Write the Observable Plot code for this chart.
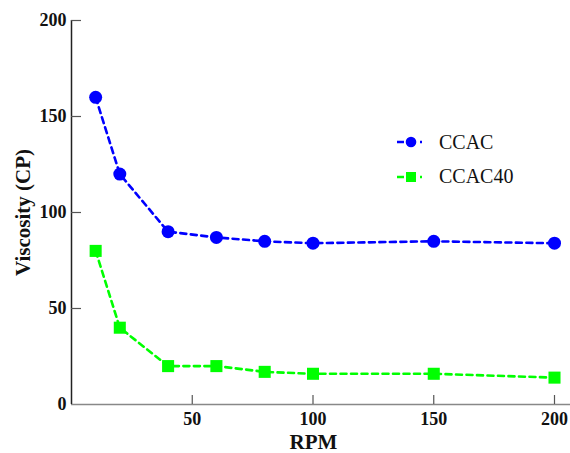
<!DOCTYPE html>
<html><head><meta charset="utf-8">
<script src="https://cdn.jsdelivr.net/npm/d3@7"></script>
<script src="https://cdn.jsdelivr.net/npm/@observablehq/plot@0.6"></script>
<style>
body{margin:0;background:#fff}
#chart{position:relative;width:570px;height:453px;font-family:"Liberation Serif","Times New Roman",serif}
#chart svg{font-family:"Liberation Serif","Times New Roman",serif !important}
#chart svg text{font-family:"Liberation Serif","Times New Roman",serif !important;font-weight:bold;font-size:18px;fill:#111}
#chart svg text.axlabel{font-size:21px}
#legend{position:absolute;left:396px;top:125px;font-size:20px;color:#111}
#legend .row{display:flex;align-items:center;height:34.5px}
#legend svg{margin-right:13px}
</style>
</head><body><div id="chart"><div id="legend"></div></div>
<script>
const rpm = [10, 20, 40, 60, 80, 100, 150, 200];
const ccac = [160, 120, 90, 87, 85, 84, 85, 84];
const ccac40 = [80, 40, 20, 20, 17, 16, 16, 14];
const xTicks = [50, 100, 150, 200];
const yTicks = [0, 50, 100, 150, 200];
const seriesNames = ["CCAC", "CCAC40"];
const seriesColors = ["#0000ff", "#00ff00"];
const seriesSymbols = ["circle", "square"];
const xLabel = "RPM";
const yLabel = "Viscosity (CP)";

const data = [];
rpm.forEach((x, i) => data.push({series: seriesNames[0], x, y: ccac[i]}));
rpm.forEach((x, i) => data.push({series: seriesNames[1], x, y: ccac40[i]}));

const W = 570, H = 453, mL = 71, mR = 16, mT = 20, mB = 49;
const frameH = H - mT - mB, frameW = W - mL - mR;

const chart = Plot.plot({
  width: W, height: H,
  marginLeft: mL, marginRight: mR, marginTop: mT, marginBottom: mB,
  style: {background: "#fff", overflow: "visible"},
  x: {domain: [0, 200]},
  y: {domain: [0, 200]},
  color: {domain: seriesNames, range: seriesColors},
  symbol: {domain: seriesNames, range: seriesSymbols},
  marks: [
    Plot.ruleY([0], {stroke: "#888", strokeWidth: 1.5, insetRight: -mR}),
    Plot.ruleX([0], {stroke: "#222", strokeWidth: 1.5}),
    Plot.tickY(yTicks.filter(d => d > 0), {y: d => d, stroke: "#555", strokeWidth: 1.2, insetRight: frameW - 10}),
    Plot.tickX(xTicks, {x: d => d, stroke: "#555", strokeWidth: 1.2, insetTop: frameH - 9}),
    Plot.axisY({ticks: yTicks, tickSize: 0, tickPadding: 5, label: null}),
    Plot.axisX({ticks: xTicks, tickSize: 0, tickPadding: 8, label: null}),
    Plot.text([yLabel], {text: d => d, frameAnchor: "left", lineAnchor: "middle"}),
    Plot.text([xLabel], {text: d => d, frameAnchor: "bottom", lineAnchor: "bottom"}),
    Plot.line(data, {x: "x", y: "y", z: "series", stroke: "series", strokeWidth: 2.6, strokeDasharray: "6,4.5"}),
    Plot.dot(data.filter(d => d.series === seriesNames[0]), {x: "x", y: "y", fill: "series", symbol: "series", r: 6.5}),
    Plot.dot(data.filter(d => d.series === seriesNames[1]), {x: "x", y: "y", fill: "series", symbol: "series", r: 6.8})
  ]
});
// place the axis titles as in the reference
chart.querySelectorAll("text").forEach(t => {
  if (t.textContent === yLabel) {
    ["x", "y", "dx", "dy"].forEach(a => t.removeAttribute(a));
    t.setAttribute("class", "axlabel");
    t.setAttribute("text-anchor", "middle");
    t.setAttribute("dy", "0.35em");
    t.setAttribute("transform", "translate(22,212) rotate(-90)");
  } else if (t.textContent === xLabel) {
    ["x", "y", "dx", "dy"].forEach(a => t.removeAttribute(a));
    t.setAttribute("class", "axlabel");
    t.setAttribute("text-anchor", "middle");
    t.setAttribute("transform", "translate(313,448)");
  }
});
document.getElementById("chart").prepend(chart);

const legend = document.getElementById("legend");
seriesNames.forEach((name, i) => {
  const c = seriesColors[i];
  const marker = seriesSymbols[i] === "circle"
    ? `<circle cx="15" cy="9" r="5.3" fill="${c}"/>`
    : `<rect x="10" y="4" width="10" height="10" fill="${c}"/>`;
  legend.insertAdjacentHTML("beforeend",
    `<div class="row"><svg width="30" height="18"><line x1="1" x2="29" y1="9" y2="9" stroke="${c}" stroke-width="2.6" stroke-dasharray="7,4.5,7,4.5,2"/>${marker}</svg><span>${name}</span></div>`);
});
</script>
</body></html>
